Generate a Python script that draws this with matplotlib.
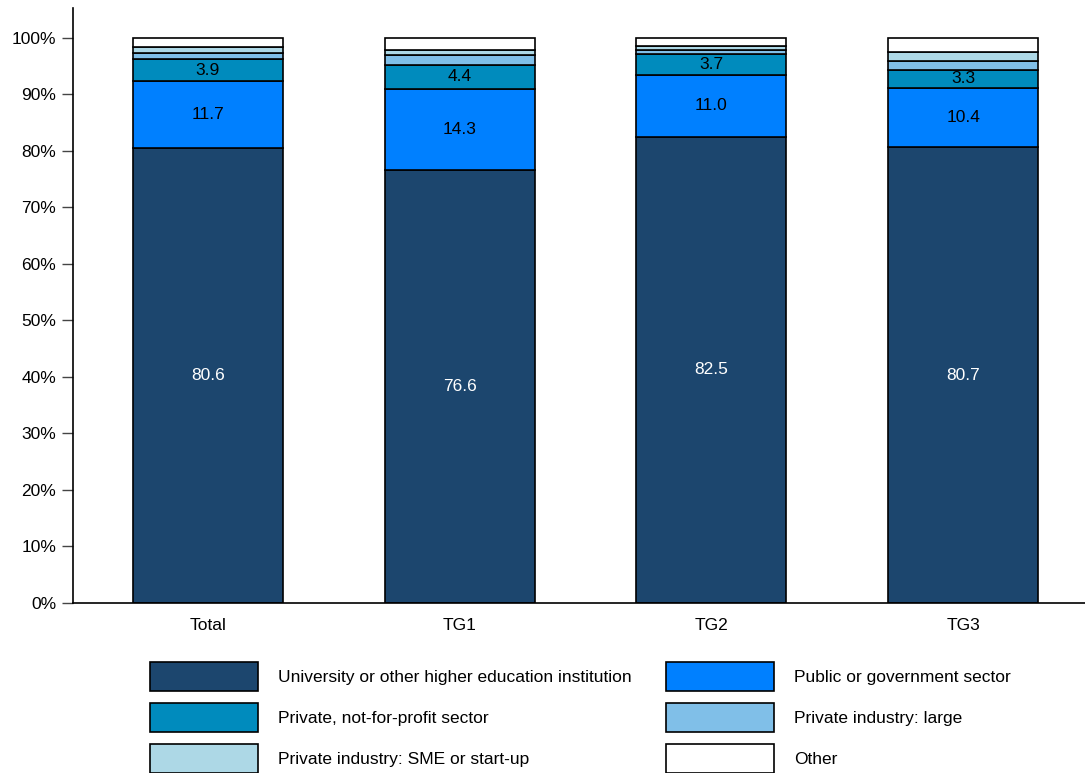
import matplotlib
matplotlib.use("Agg")
import matplotlib.pyplot as plt
import numpy as np

plt.rcParams['font.family'] = ['Liberation Sans', 'DejaVu Sans']

groups = ["Total", "TG1", "TG2", "TG3"]
series_names = [
    "University or other higher education institution",
    "Public or government sector",
    "Private, not-for-profit sector",
    "Private industry: large",
    "Private industry: SME or start-up",
    "Other",
]
university = [80.6, 76.6, 82.5, 80.7]
public = [11.7, 14.3, 11.0, 10.4]
nonprofit = [3.9, 4.4, 3.7, 3.3]
industry_large = [1.2, 1.6, 0.7, 1.5]
industry_sme = [1.0, 1.0, 0.6, 1.7]
other = [1.6, 2.1, 1.5, 2.4]

colors = ["#1c466e", "#0080ff", "#008bbd", "#80bfe8", "#add8e6", "#ffffff"]
label_colors = ["white", "black", "black", None, None, None]

series = [university, public, nonprofit, industry_large, industry_sme, other]

FS = 12.5
fig = plt.figure(figsize=(10.85, 7.73), dpi=100)
ax = fig.add_axes([73/1085, 1 - 603/773, 1 - 73/1085, (603 - 8)/773])

x = np.arange(len(groups))
width = 0.596
bottom = np.zeros(len(groups))
handles = []
for vals, name, col, lc in zip(series, series_names, colors, label_colors):
    vals = np.array(vals)
    bars = ax.bar(x, vals, width, bottom=bottom, color=col, edgecolor="black",
                  linewidth=1.2, label=name)
    handles.append(bars)
    if lc is not None:
        for xi, b, v in zip(x, bottom, vals):
            ax.text(xi, b + v / 2, f"{v:.1f}", ha="center", va="center",
                    color=lc, fontsize=FS)
    bottom += vals

ax.set_xlim(-0.536, 3.484)
ax.set_ylim(0, 105.3)
ax.set_yticks(np.arange(0, 101, 10))
ax.set_yticklabels([f"{v}%" for v in range(0, 101, 10)], fontsize=FS)
ax.set_xticks(x)
ax.set_xticklabels(groups, fontsize=FS)
ax.tick_params(axis='x', length=0, pad=11)
ax.tick_params(axis='y', length=8, width=1, color="#444444", pad=4)
for s in ["top", "right"]:
    ax.spines[s].set_visible(False)
ax.spines["left"].set_linewidth(1.2)
ax.spines["bottom"].set_linewidth(1.2)

order = [0, 2, 4, 1, 3, 5]
leg = fig.legend([handles[i] for i in order], [series_names[i] for i in order],
                 ncol=2, loc="upper left", bbox_to_anchor=(150/1085, 1 - 662/773),
                 frameon=False, fontsize=FS, handlelength=6.24, handleheight=2.2,
                 handletextpad=1.15, columnspacing=1.955, labelspacing=0.69,
                 borderpad=0, borderaxespad=0)

fig.savefig("out.png", dpi=100)
